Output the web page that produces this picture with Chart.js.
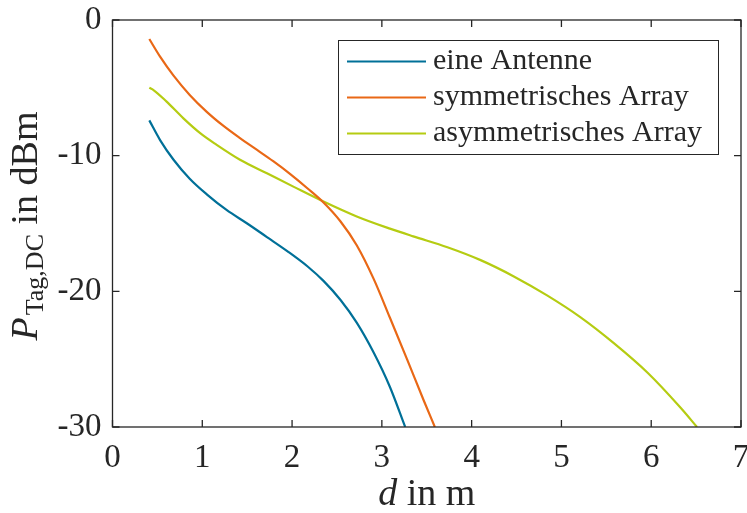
<!DOCTYPE html>
<html>
<head>
<meta charset="utf-8">
<script src="https://cdn.jsdelivr.net/npm/chart.js@4"></script>
<style>
html,body{margin:0;padding:0;background:#fff;}
#wrap{width:747px;height:513px;}
</style>
</head>
<body>
<div id="wrap"><canvas id="c" width="747" height="513"></canvas></div>
<script>
// ---- data ----
const seriesLabels = ['eine Antenne', 'symmetrisches Array', 'asymmetrisches Array'];

const einX = [0.41, 0.53, 0.68, 0.86, 1.05, 1.27, 1.50, 1.72, 1.95, 2.17, 2.35, 2.54, 2.72, 2.91, 3.09, 3.26];
const einY = [-7.4, -8.85, -10.3, -11.7, -12.85, -14.0, -15.0, -16.0, -17.05, -18.15, -19.23, -20.64, -22.31, -24.53, -27.05, -30.0];

const symX = [0.41, 0.53, 0.68, 0.86, 1.05, 1.24, 1.42, 1.61, 1.79, 1.98, 2.17, 2.35, 2.54, 2.72, 2.91, 3.09, 3.28, 3.47, 3.59];
const symY = [-1.4, -2.7, -4.1, -5.52, -6.77, -7.83, -8.71, -9.58, -10.41, -11.36, -12.4, -13.45, -14.85, -16.6, -19.1, -21.95, -25.0, -28.1, -30.0];

const asyX = [0.41, 0.46, 0.60, 0.79, 0.98, 1.16, 1.42, 1.72, 2.02, 2.35, 2.72, 3.09, 3.35, 3.73, 4.10, 4.47, 4.84, 5.21, 5.58, 5.96, 6.33, 6.51];
const asyY = [-5.0, -5.18, -6.0, -7.25, -8.36, -9.2, -10.3, -11.3, -12.3, -13.38, -14.48, -15.38, -15.95, -16.75, -17.7, -18.9, -20.3, -21.9, -23.8, -26.0, -28.6, -30.0];

const xTicks = [0, 1, 2, 3, 4, 5, 6, 7];
const yTicks = [-30, -20, -10, 0];

// ---- styles ----
const colors = ['rgb(0,112,152)', 'rgb(233,104,22)', 'rgb(181,204,18)'];
const axisColor = '#262626';
const serif = '"Liberation Serif", "DejaVu Serif", serif';

function pts(xs, ys){ return xs.map((x,i)=>({x:x, y:ys[i]})); }

const framePlugin = {
  id: 'frame',
  afterDatasetsDraw(chart){
    const ctx = chart.ctx, a = chart.chartArea, xs = chart.scales.x, ys = chart.scales.y;
    ctx.save();
    ctx.strokeStyle = axisColor;
    ctx.lineWidth = 1.3;
    ctx.strokeRect(a.left, a.top, a.right - a.left, a.bottom - a.top);
    const L = 7;
    ctx.beginPath();
    xTicks.forEach(v => {
      const p = xs.getPixelForValue(v);
      ctx.moveTo(p, a.bottom); ctx.lineTo(p, a.bottom - L);
      ctx.moveTo(p, a.top); ctx.lineTo(p, a.top + L);
    });
    yTicks.forEach(v => {
      const p = ys.getPixelForValue(v);
      ctx.moveTo(a.left, p); ctx.lineTo(a.left + L, p);
      ctx.moveTo(a.right, p); ctx.lineTo(a.right - L, p);
    });
    ctx.stroke();

    // legend
    const bx = 338.5, by = 40.5, bw = 380, bh = 114;
    ctx.fillStyle = '#fff';
    ctx.fillRect(bx, by, bw, bh);
    ctx.lineWidth = 1;
    ctx.strokeRect(bx, by, bw, bh);
    const rows = [61.5, 97.5, 133.5];
    chart.data.datasets.forEach((ds, i) => {
      ctx.strokeStyle = ds.borderColor;
      ctx.lineWidth = 2.2;
      ctx.beginPath();
      ctx.moveTo(347, rows[i]); ctx.lineTo(426, rows[i]);
      ctx.stroke();
      ctx.fillStyle = axisColor;
      ctx.font = '30px ' + serif;
      ctx.textBaseline = 'alphabetic';
      ctx.textAlign = 'left';
      ctx.fillText(ds.label, 433, rows[i] + 7);
    });

    // x title
    ctx.fillStyle = axisColor;
    ctx.textBaseline = 'alphabetic';
    ctx.textAlign = 'left';
    const cx = (a.left + a.right) / 2;
    ctx.font = 'italic 38px ' + serif;
    const w1 = ctx.measureText('d').width;
    ctx.font = '38px ' + serif;
    const w2 = ctx.measureText(' in m').width;
    let sx = cx - (w1 + w2) / 2;
    ctx.font = 'italic 38px ' + serif;
    ctx.fillText('d', sx, 505);
    ctx.font = '38px ' + serif;
    ctx.fillText(' in m', sx + w1, 505);

    // y title
    ctx.save();
    ctx.translate(37, 226);
    ctx.rotate(-Math.PI / 2);
    ctx.font = 'italic 38px ' + serif;
    const p1 = ctx.measureText('P').width;
    ctx.font = '26px ' + serif;
    const p2 = ctx.measureText('Tag,DC').width;
    ctx.font = '38px ' + serif;
    const p3 = ctx.measureText(' in dBm').width;
    let s = -(p1 + p2 + p3 + 2) / 2;
    ctx.font = 'italic 38px ' + serif;
    ctx.fillText('P', s, 0);
    ctx.font = '26px ' + serif;
    ctx.fillText('Tag,DC', s + p1 + 2, 6);
    ctx.font = '38px ' + serif;
    ctx.fillText(' in dBm', s + p1 + 2 + p2, 0);
    ctx.restore();

    ctx.restore();
  }
};

const ds = (label, xs, ys, color) => ({
  label: label,
  data: pts(xs, ys),
  borderColor: color,
  backgroundColor: color,
  borderWidth: 2.2,
  pointRadius: 0,
  fill: false,
  cubicInterpolationMode: 'monotone'
});

function zeroPad(s){ s.paddingTop = 0; s.paddingBottom = 0; s.paddingLeft = 0; s.paddingRight = 0; }

new Chart(document.getElementById('c'), {
  type: 'line',
  data: {
    datasets: [
      ds(seriesLabels[0], einX, einY, colors[0]),
      ds(seriesLabels[1], symX, symY, colors[1]),
      ds(seriesLabels[2], asyX, asyY, colors[2])
    ]
  },
  options: {
    responsive: false,
    animation: false,
    events: [],
    layout: { padding: { top: 20, right: 6, left: 0, bottom: 0 } },
    plugins: { legend: { display: false }, tooltip: { enabled: false } },
    scales: {
      x: {
        type: 'linear', min: 0, max: 7,
        grid: { display: false, drawTicks: false },
        border: { display: false },
        afterBuildTicks: s => { s.ticks = xTicks.map(v => ({ value: v })); },
        ticks: { color: axisColor, font: { family: serif, size: 33 }, padding: 12, maxRotation: 0, autoSkip: false },
        afterFit: s => { s.height = 86; zeroPad(s); }
      },
      y: {
        type: 'linear', min: -30, max: 0,
        grid: { display: false, drawTicks: false },
        border: { display: false },
        afterBuildTicks: s => { s.ticks = yTicks.map(v => ({ value: v })); },
        ticks: { color: axisColor, font: { family: serif, size: 33 }, padding: 11, autoSkip: false },
        afterFit: s => { s.width = 112.5; zeroPad(s); }
      }
    }
  },
  plugins: [framePlugin]
});
</script>
</body>
</html>
